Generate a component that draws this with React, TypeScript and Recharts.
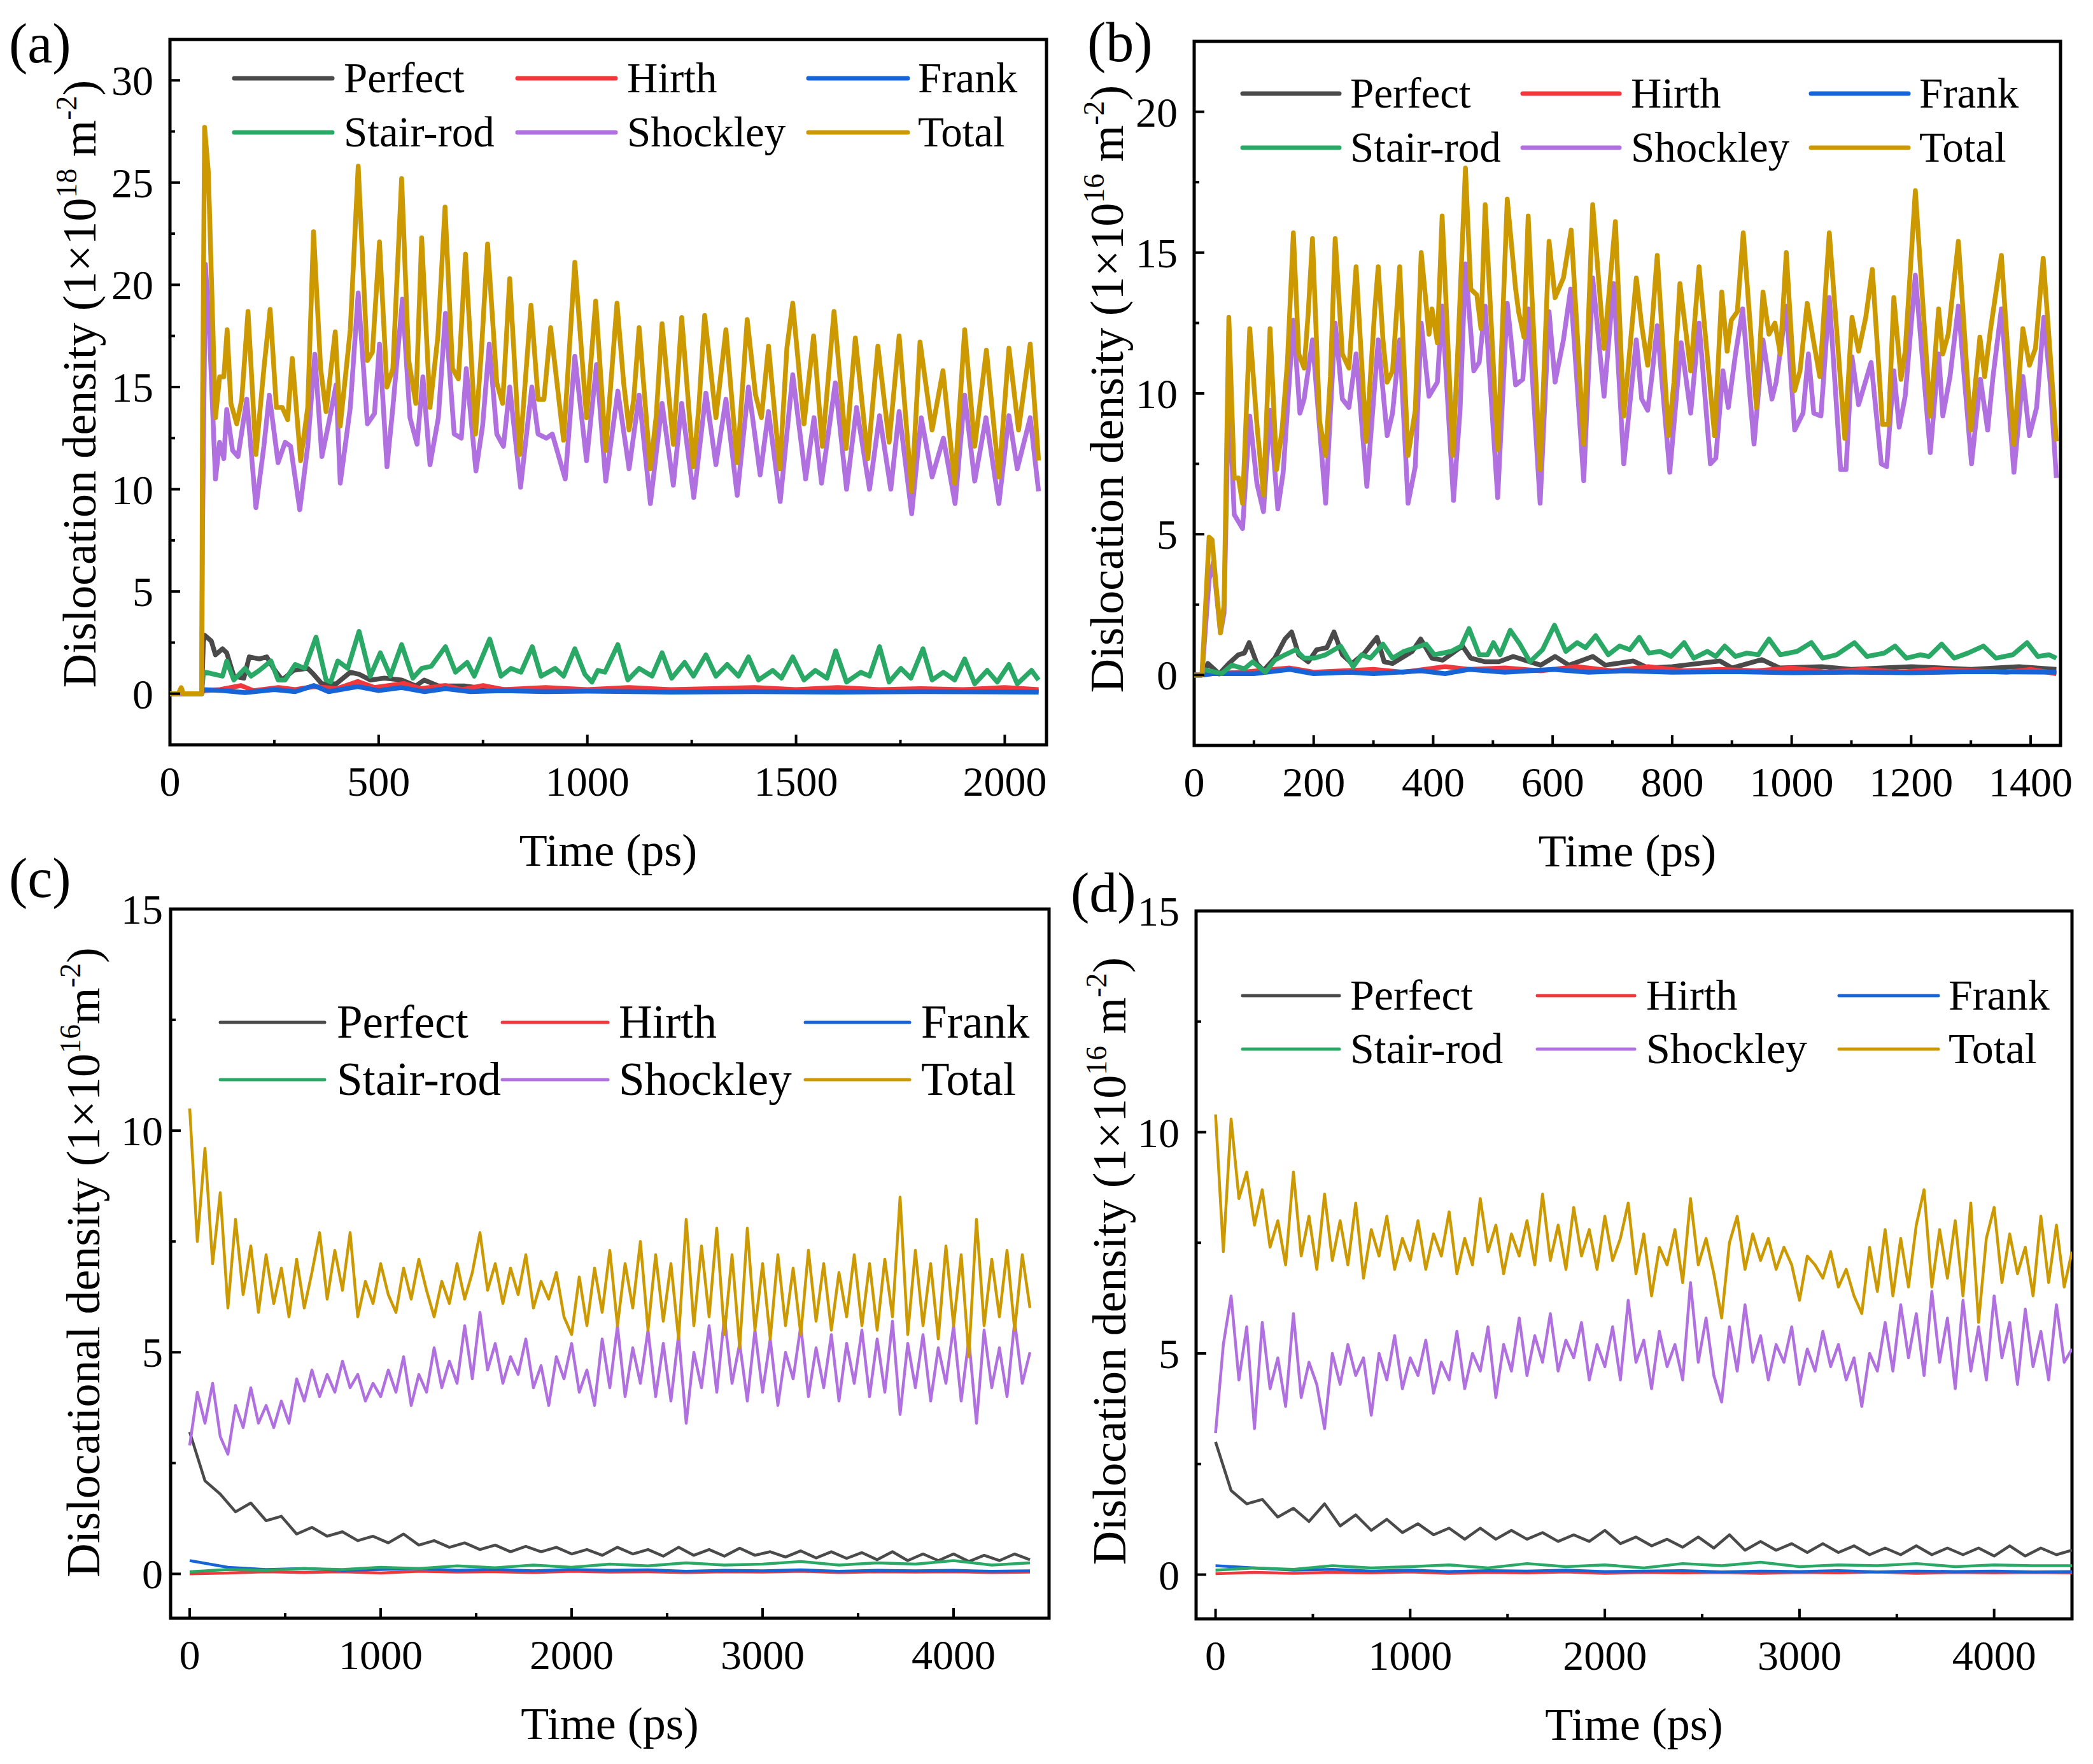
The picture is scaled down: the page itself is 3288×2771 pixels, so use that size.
import React from "react";
import { LineChart, Line, XAxis, YAxis, ReferenceArea, Legend } from "recharts";

const FONT = "'Liberation Serif', 'Times New Roman', serif";

const NAMES = ["Perfect", "Hirth", "Frank", "Stair-rod", "Shockley", "Total"];
const COLORS = ["#4a4a4a", "#f0373c", "#1764d8", "#2aa865", "#b070e0", "#cc9a00"];

// ---------- panel (a): [time ps, density 1e18 m^-2] ----------
const aPerfect = [[0,0],[76,0],[80,2.5],[83,2.86],[99,2.58],[109,1.9],[126,2.2],[136,2.0],[153,0.86],[177,0.76],[190,1.8],[214,1.7],[232,1.8],[248,1.24],[269,0.67],[296,1.14],[330,1.24],[344,0.95],[364,0.48],[398,0.48],[432,1.05],[453,0.95],[480,0.67],[514,0.76],[555,0.67],[589,0.38],[609,0.67],[643,0.38],[705,0.38],[739,0.29],[807,0.19],[900,0.22],[1000,0.15],[1200,0.18],[1400,0.14],[1600,0.16],[1800,0.12],[2081,0.12]];
const aHirth = [[0,0],[76,0],[80,0.15],[120,0.2],[170,0.4],[200,0.15],[260,0.3],[300,0.2],[345,0.35],[400,0.25],[450,0.6],[490,0.3],[560,0.5],[600,0.25],[660,0.4],[700,0.2],[750,0.4],[800,0.2],[900,0.3],[1000,0.2],[1100,0.3],[1200,0.2],[1300,0.25],[1400,0.3],[1500,0.2],[1600,0.3],[1700,0.2],[1800,0.25],[1900,0.2],[2000,0.3],[2081,0.2]];
const aFrank = [[0,0],[76,0],[80,0.2],[130,0.15],[180,0.05],[250,0.2],[300,0.1],[345,0.4],[380,0.1],[450,0.35],[500,0.15],[555,0.3],[610,0.1],[660,0.25],[720,0.1],[800,0.15],[900,0.1],[1000,0.12],[1200,0.08],[1400,0.1],[1600,0.08],[1800,0.1],[2081,0.08]];
const aStairRod = [[0,0],[76,0],[80,1.0],[85,1.05],[126,0.86],[136,1.6],[153,0.67],[180,1.24],[194,0.86],[214,1.14],[242,1.6],[259,0.67],[276,0.67],[300,1.43],[323,1.24],[350,2.77],[374,0.67],[385,0.57],[402,1.6],[426,1.24],[453,3.05],[480,0.86],[504,2.0],[528,0.86],[555,2.4],[582,0.76],[603,1.24],[626,1.34],[660,2.3],[684,1.05],[712,1.53],[729,0.86],[766,2.67],[793,0.86],[817,1.24],[841,1.05],[868,2.3],[889,0.86],[923,1.24],[943,0.86],[970,2.2],[994,0.95],[1011,0.57],[1025,1.14],[1042,1.05],[1073,2.4],[1097,0.67],[1124,1.24],[1155,0.86],[1179,2.0],[1202,0.76],[1233,1.53],[1254,0.86],[1284,1.9],[1308,0.86],[1335,1.43],[1362,0.86],[1386,1.8],[1410,0.67],[1444,1.14],[1465,0.76],[1492,1.8],[1519,0.67],[1546,1.14],[1574,0.76],[1595,2.1],[1621,0.57],[1655,1.05],[1676,0.86],[1700,2.3],[1723,0.57],[1751,1.24],[1775,0.76],[1804,2.2],[1826,0.67],[1853,1.05],[1880,0.67],[1904,1.7],[1928,0.48],[1958,1.14],[1982,0.57],[2010,1.43],[2030,0.48],[2064,1.14],[2081,0.67]];
const aShockley = [[0,0],[76,0],[78,8],[85,21.0],[95,17.5],[109,10.5],[119,12.3],[129,11.5],[136,13.9],[150,11.9],[163,11.6],[184,14.4],[206,9.1],[225,12.1],[238,14.6],[259,11.3],[276,12.3],[289,12.1],[311,9.0],[330,12.1],[347,16.6],[364,11.6],[381,13.3],[398,15.1],[408,10.3],[432,14.0],[451,19.6],[473,13.2],[490,13.7],[502,17.1],[520,11.1],[534,14.0],[557,19.3],[575,13.5],[592,12.2],[606,15.5],[623,11.2],[643,13.5],[660,18.6],[681,12.7],[698,12.5],[710,15.9],[733,10.9],[749,13.1],[765,17.1],[783,12.7],[799,12.1],[814,15.0],[840,10.1],[867,15.0],[882,12.7],[902,12.5],[916,12.7],[947,10.5],[970,16.5],[998,11.4],[1022,16.1],[1044,10.4],[1073,14.8],[1100,11.0],[1124,14.6],[1151,9.3],[1179,14.2],[1206,10.2],[1226,14.2],[1255,9.6],[1284,14.7],[1308,11.2],[1332,14.4],[1359,9.7],[1386,15.0],[1414,10.7],[1434,13.8],[1462,9.4],[1492,15.6],[1523,10.5],[1543,13.5],[1561,10.3],[1594,15.2],[1621,10.0],[1645,14.0],[1676,10.0],[1700,13.6],[1727,10.0],[1747,13.8],[1777,8.8],[1800,13.5],[1826,10.6],[1853,12.5],[1881,9.3],[1904,14.6],[1928,10.4],[1955,13.5],[1986,9.3],[2010,13.6],[2030,11.0],[2061,13.5],[2081,9.9]];
const aTotal = [[0,0],[20,0],[27,0.3],[32,0],[76,0],[78,14],[83,27.7],[92,25.5],[109,13.5],[119,15.5],[129,15.5],[137,17.8],[146,14.2],[160,13.2],[172,14.4],[187,18.7],[206,11.7],[225,15.9],[240,18.8],[255,14.0],[269,14.0],[282,13.4],[293,16.4],[313,11.4],[330,14.0],[344,22.6],[361,15.9],[374,13.8],[396,17.7],[408,13.1],[432,17.8],[451,25.8],[473,16.3],[485,16.7],[502,22.1],[520,15.0],[534,15.9],[555,25.2],[572,16.3],[589,14.2],[603,22.3],[623,14.0],[642,17.5],[659,23.8],[677,15.9],[691,15.4],[708,21.5],[732,12.7],[746,16.7],[761,22.0],[783,15.2],[797,14.2],[814,20.3],[838,11.7],[865,19.0],[882,14.4],[896,14.4],[912,17.9],[943,12.4],[970,21.1],[998,13.5],[1020,19.2],[1044,11.9],[1071,19.1],[1087,15.2],[1100,12.9],[1111,14.4],[1124,17.9],[1151,11.0],[1165,13.6],[1179,18.1],[1206,12.2],[1226,18.4],[1254,11.1],[1267,14.0],[1281,18.5],[1308,13.5],[1332,17.8],[1359,11.3],[1383,18.3],[1403,14.6],[1417,13.5],[1434,17.0],[1461,11.0],[1478,16.9],[1492,19.1],[1519,13.2],[1542,17.5],[1563,12.1],[1591,18.7],[1620,12.0],[1642,17.4],[1672,11.5],[1696,17.0],[1723,12.3],[1747,17.5],[1777,9.9],[1797,17.2],[1826,12.9],[1852,15.8],[1880,10.3],[1904,17.8],[1928,12.1],[1956,16.8],[1986,10.6],[2010,16.9],[2033,12.9],[2061,17.1],[2081,11.4]];

// ---------- panel (b): [time ps, density 1e16 m^-2] ----------
const bPerfect = [[0,0],[13,0],[23,0.41],[42,0.04],[58,0.41],[74,0.72],[84,0.78],[92,1.15],[105,0.41],[116,0.16],[135,0.6],[152,1.28],[163,1.53],[175,0.72],[191,0.47],[205,0.9],[222,0.97],[234,1.53],[248,0.72],[264,0.41],[285,0.78],[306,1.34],[318,0.47],[332,0.41],[365,0.84],[379,1.28],[398,0.6],[416,0.53],[449,1.03],[463,0.6],[487,0.47],[510,0.47],[534,0.66],[562,0.47],[580,0.35],[604,0.66],[627,0.35],[667,0.66],[688,0.35],[735,0.5],[760,0.25],[800,0.3],[880,0.5],[900,0.25],[950,0.55],[980,0.25],[1050,0.3],[1100,0.2],[1200,0.3],[1300,0.2],[1380,0.3],[1443,0.2]];
const bHirth = [[0,0],[13,0],[30,0.05],[80,0.1],[160,0.25],[200,0.1],[250,0.15],[300,0.2],[350,0.1],[420,0.3],[460,0.2],[520,0.25],[580,0.15],[640,0.3],[700,0.15],[760,0.3],[820,0.15],[880,0.2],[940,0.15],[1000,0.25],[1060,0.1],[1120,0.2],[1180,0.1],[1240,0.2],[1300,0.15],[1360,0.1],[1400,0.2],[1443,0.05]];
const bFrank = [[0,0],[13,0],[30,0.05],[100,0.05],[160,0.2],[200,0.05],[260,0.1],[300,0.05],[380,0.15],[420,0.05],[460,0.2],[520,0.1],[600,0.2],[660,0.1],[720,0.15],[800,0.1],[900,0.12],[1000,0.08],[1100,0.1],[1200,0.08],[1300,0.12],[1443,0.1]];
const bStairRod = [[0,0],[13,0],[16,0.2],[46,0.05],[63,0.35],[84,0.22],[98,0.47],[119,0.1],[135,0.53],[152,0.72],[170,0.9],[184,0.6],[201,0.6],[220,0.72],[245,1.03],[266,0.29],[280,0.72],[295,0.6],[316,1.1],[332,0.6],[351,0.84],[370,0.97],[388,1.1],[402,0.72],[430,0.84],[447,1.03],[460,1.65],[477,0.72],[491,0.72],[501,1.15],[512,0.72],[529,1.59],[545,1.1],[562,0.47],[583,0.9],[603,1.77],[622,0.84],[641,1.15],[655,0.97],[672,1.4],[693,0.72],[712,1.03],[729,0.9],[745,1.34],[761,0.78],[780,0.84],[798,0.66],[820,1.15],[836,0.6],[859,0.84],[873,0.66],[888,1.03],[906,0.66],[925,0.78],[944,0.72],[962,1.28],[981,0.72],[1009,0.84],[1033,1.15],[1052,0.6],[1075,0.72],[1105,1.15],[1126,0.66],[1155,0.78],[1173,1.03],[1192,0.6],[1215,0.72],[1230,0.66],[1251,1.1],[1272,0.6],[1295,0.78],[1321,1.03],[1342,0.6],[1370,0.72],[1394,1.15],[1412,0.66],[1431,0.72],[1443,0.6]];
const bShockley = [[0,0],[13,0],[25,3.4],[32,4.0],[44,1.5],[50,2.2],[58,10.3],[67,5.7],[81,5.2],[93,9.2],[105,6.8],[116,5.8],[127,9.4],[140,5.9],[149,7.2],[166,12.6],[177,9.3],[184,9.8],[198,11.9],[220,6.1],[236,12.5],[248,9.8],[259,9.5],[271,11.4],[289,6.7],[308,11.9],[323,8.5],[332,9.3],[344,11.9],[358,6.1],[370,7.4],[380,12.5],[393,9.9],[407,10.4],[415,13.1],[434,6.2],[445,9.4],[454,14.6],[468,10.8],[477,11.1],[487,13.1],[508,6.3],[524,13.2],[538,10.3],[550,10.5],[559,13.0],[579,6.1],[594,12.9],[604,10.4],[618,11.9],[630,13.7],[652,6.9],[667,14.1],[686,9.9],[702,13.9],[719,7.5],[740,11.9],[749,9.8],[759,9.4],[766,10.6],[775,12.4],[796,7.2],[815,11.8],[831,9.3],[845,12.5],[864,7.5],[873,7.7],[885,10.8],[894,9.5],[906,11.4],[918,13.0],[937,8.2],[952,11.9],[967,9.8],[974,10.4],[991,13.1],[1005,8.7],[1019,9.3],[1028,11.4],[1037,9.3],[1049,9.2],[1063,13.4],[1082,7.3],[1091,7.3],[1101,11.3],[1112,9.6],[1133,11.1],[1150,7.5],[1159,7.4],[1171,10.8],[1180,8.8],[1190,9.9],[1207,14.2],[1232,7.9],[1246,11.4],[1253,9.2],[1265,10.6],[1279,13.1],[1301,7.5],[1316,10.5],[1328,8.7],[1337,10.6],[1351,13.0],[1372,7.2],[1387,10.6],[1398,8.5],[1410,9.5],[1422,12.7],[1433,10.3],[1443,7.0]];
const bTotal = [[0,0],[13,0],[25,4.9],[30,4.8],[37,3.1],[44,1.5],[50,2.5],[58,12.7],[67,7.0],[74,7.0],[81,6.1],[93,12.3],[105,8.9],[116,6.4],[127,12.3],[138,7.3],[147,8.7],[156,11.1],[166,15.7],[175,11.4],[184,10.9],[191,12.9],[198,15.5],[210,9.0],[220,7.8],[228,10.6],[236,15.5],[248,11.4],[259,10.9],[271,14.5],[288,8.3],[302,12.9],[308,14.5],[316,11.9],[323,10.4],[332,10.8],[344,14.5],[358,7.8],[370,9.4],[380,15.0],[393,12.1],[398,13.0],[407,11.8],[415,16.3],[433,7.8],[442,11.9],[454,18.0],[463,13.7],[473,13.5],[480,12.3],[487,16.7],[508,8.0],[524,16.9],[538,13.7],[543,12.9],[552,12.0],[559,16.3],[579,7.3],[594,15.4],[604,13.4],[618,14.1],[631,15.8],[652,8.2],[667,16.7],[686,11.6],[705,16.1],[719,9.2],[740,14.1],[749,12.4],[759,11.0],[766,12.4],[775,14.9],[794,8.5],[803,10.4],[813,13.9],[831,10.8],[845,14.5],[871,8.5],[883,13.6],[892,11.5],[899,12.6],[909,12.9],[919,15.7],[941,9.5],[952,13.6],[962,12.1],[972,12.5],[981,11.4],[991,15.0],[1005,10.1],[1014,10.8],[1026,13.2],[1037,11.8],[1047,10.6],[1063,15.7],[1089,8.4],[1101,12.7],[1112,11.5],[1124,12.7],[1135,14.4],[1152,8.9],[1162,8.9],[1171,13.4],[1183,10.5],[1190,11.5],[1207,17.2],[1232,9.2],[1246,13.0],[1253,11.4],[1262,12.1],[1279,15.4],[1300,8.7],[1315,12.0],[1323,10.6],[1333,12.3],[1351,14.9],[1372,8.2],[1387,12.3],[1398,11.0],[1408,11.6],[1421,14.8],[1431,11.9],[1443,8.3]];

// ---------- panels (c), (d): values sampled on a regular time grid ----------
const FINE_STEP = 40; // ps, Total / Shockley
const MID_STEP = 80; // ps, Perfect
const COARSE_STEP = 200; // ps, Stair-rod / Hirth / Frank

const cTotal = [10.5,7.5,9.6,7.0,8.6,6.0,8.0,6.3,7.4,5.9,7.2,6.1,6.9,5.8,7.1,6.0,6.8,7.7,6.2,7.3,6.4,7.7,5.8,6.6,6.1,7.0,6.3,5.9,6.9,6.2,7.1,6.4,5.8,6.6,6.1,7.0,6.2,6.8,7.7,6.4,7.0,6.1,6.9,6.3,7.2,6.0,6.6,6.2,6.8,5.8,5.4,6.7,5.6,6.9,5.9,7.3,5.6,7.0,6.0,7.5,5.5,7.2,5.7,7.0,5.3,8.0,5.6,7.4,5.8,7.8,5.4,7.2,5.1,7.8,5.5,7.0,5.3,7.2,5.6,6.9,5.4,7.3,5.7,7.0,5.5,6.8,5.8,7.2,5.6,7.0,5.5,7.1,5.8,8.5,5.4,7.3,5.6,7.0,5.3,7.4,5.6,7.2,4.9,8.0,5.6,7.1,5.8,7.3,5.5,7.2,6.0];
const cShockley = [2.9,4.1,3.4,4.3,3.1,2.7,3.8,3.3,4.2,3.4,3.8,3.3,3.9,3.4,4.4,3.9,4.6,4.0,4.5,4.1,4.8,4.2,4.5,3.9,4.3,4.0,4.6,4.1,4.9,3.8,4.5,4.1,5.1,4.2,4.8,4.3,5.6,4.4,5.9,4.6,5.2,4.3,4.9,4.5,5.3,4.2,4.7,3.8,4.9,4.4,5.2,4.1,4.6,3.8,5.3,4.2,5.6,4.0,5.1,4.3,5.5,4.0,5.2,3.9,5.4,3.4,5.0,4.2,5.6,4.1,5.8,4.3,5.2,3.9,5.5,4.1,5.3,3.8,5.0,4.4,5.6,4.0,5.1,4.2,5.4,3.9,5.2,4.3,5.5,4.0,5.3,4.1,5.7,3.6,5.2,4.2,5.4,3.9,5.1,4.3,5.6,3.9,5.3,3.4,5.5,4.2,5.1,4.0,5.7,4.3,5.0];
const cPerfect = [3.2,2.1,1.8,1.4,1.6,1.2,1.3,0.9,1.05,0.85,0.95,0.75,0.85,0.7,0.9,0.65,0.75,0.6,0.7,0.55,0.65,0.5,0.62,0.5,0.6,0.45,0.55,0.42,0.6,0.45,0.55,0.4,0.6,0.42,0.55,0.4,0.58,0.42,0.5,0.38,0.52,0.36,0.5,0.35,0.48,0.32,0.5,0.3,0.45,0.3,0.45,0.28,0.42,0.3,0.45,0.32];
const cStairRod = [0.05,0.1,0.08,0.12,0.1,0.15,0.12,0.18,0.14,0.2,0.15,0.22,0.18,0.25,0.2,0.22,0.28,0.2,0.25,0.22,0.3,0.2,0.25];
const cHirth = [0.0,0.02,0.05,0.03,0.05,0.02,0.06,0.04,0.05,0.03,0.06,0.04,0.05,0.03,0.05,0.04,0.06,0.03,0.05,0.04,0.05,0.03,0.04];
const cFrank = [0.3,0.15,0.1,0.12,0.08,0.1,0.12,0.08,0.1,0.07,0.1,0.08,0.09,0.06,0.08,0.07,0.09,0.06,0.08,0.07,0.08,0.06,0.07];

const dTotal = [10.4,7.3,10.3,8.5,9.1,7.9,8.7,7.4,8.0,7.0,9.1,7.2,8.1,6.9,8.6,7.1,8.0,7.0,8.4,6.7,7.8,7.2,8.1,6.9,7.6,7.1,8.0,6.9,7.7,7.2,8.2,6.8,7.6,7.0,8.5,7.3,7.9,6.8,7.7,7.2,8.0,7.0,8.6,7.1,7.9,6.9,8.3,7.2,7.8,6.9,8.1,7.1,7.6,8.4,6.8,7.7,6.3,7.4,7.0,7.8,6.6,8.5,7.0,7.6,6.8,5.8,7.5,8.1,6.9,7.7,7.1,7.6,6.9,7.4,7.0,6.2,7.2,7.0,6.7,7.3,6.5,6.9,6.3,5.9,7.4,6.4,7.8,6.3,7.6,6.5,7.9,8.7,6.5,7.8,6.7,8.0,6.3,8.4,5.7,7.6,8.3,6.6,7.7,6.8,7.4,6.3,8.1,6.6,7.9,6.5,7.3];
const dShockley = [3.2,5.2,6.3,4.4,5.6,3.3,5.7,4.2,4.9,3.8,5.9,4.0,4.8,4.3,3.3,5.0,4.3,5.2,4.5,4.9,3.6,5.0,4.4,5.4,4.2,4.9,4.5,5.3,4.1,4.8,4.4,5.5,4.2,5.0,4.6,5.6,4.0,5.2,4.6,5.8,4.5,5.4,4.8,5.9,4.6,5.3,4.9,5.7,4.4,5.2,4.7,5.6,4.4,6.2,4.8,5.3,4.2,5.5,4.7,5.2,4.4,6.6,4.8,5.8,4.5,3.9,5.6,4.6,6.1,4.8,5.4,4.4,5.2,4.8,5.6,4.3,5.1,4.6,5.5,4.7,5.2,4.4,4.9,3.8,5.0,4.6,5.7,4.6,6.1,4.9,5.9,4.5,6.4,4.8,5.8,4.2,6.2,4.6,5.6,4.4,6.3,4.9,5.7,4.3,6.0,4.7,5.5,4.4,6.1,4.8,5.1];
const dPerfect = [3.0,1.9,1.6,1.7,1.3,1.5,1.2,1.6,1.1,1.35,1.0,1.25,0.95,1.15,0.9,1.05,0.8,1.05,0.8,1.0,0.8,0.95,0.75,0.9,0.75,1.0,0.7,0.85,0.65,0.8,0.62,0.85,0.6,0.9,0.55,0.75,0.55,0.7,0.5,0.7,0.5,0.65,0.45,0.6,0.45,0.65,0.45,0.6,0.45,0.6,0.42,0.65,0.42,0.6,0.45,0.55];
const dStairRod = [0.1,0.15,0.12,0.2,0.15,0.18,0.22,0.15,0.25,0.18,0.22,0.15,0.25,0.2,0.28,0.18,0.22,0.2,0.25,0.18,0.22,0.2,0.2];
const dHirth = [0.02,0.05,0.03,0.05,0.04,0.06,0.03,0.05,0.04,0.06,0.03,0.05,0.04,0.05,0.03,0.05,0.04,0.06,0.03,0.05,0.04,0.05,0.04];
const dFrank = [0.2,0.15,0.1,0.12,0.08,0.1,0.07,0.09,0.08,0.1,0.07,0.08,0.09,0.06,0.08,0.07,0.09,0.06,0.08,0.07,0.08,0.06,0.07];

// ---------- tick values ----------
const aXTicks = [0, 250, 500, 750, 1000, 1250, 1500, 1750, 2000];
const aYTicks = [0, 2.5, 5, 7.5, 10, 12.5, 15, 17.5, 20, 22.5, 25, 27.5, 30];
const bXTicks = [0, 100, 200, 300, 400, 500, 600, 700, 800, 900, 1000, 1100, 1200, 1300, 1400];
const bYTicks = [0, 2.5, 5, 7.5, 10, 12.5, 15, 17.5, 20];
const cdXTicks = [0, 500, 1000, 1500, 2000, 2500, 3000, 3500, 4000];
const cdYTicks = [0, 2.5, 5, 7.5, 10, 12.5, 15];

type Pt = { t: number; v: number };
const fromPairs = (pairs: number[][]): Pt[] => pairs.map(([t, v]) => ({ t, v }));
const onGrid = (step: number, vals: number[]): Pt[] => vals.map((v, i) => ({ t: i * step, v }));

const isMajor = (v: number, major: number) => Math.abs(v / major - Math.round(v / major)) < 1e-6;

type Panel = {
  id: string;
  left: number;
  top: number;
  width: number;
  height: number;
  margin: { top: number; right: number; bottom: number; left: number };
  yWidth: number;
  xHeight: number;
  xDomain: [number, number];
  yDomain: [number, number];
  xTicks: number[];
  xMajor: number;
  yTicks: number[];
  yMajor: number;
  yGap: number;
  series: Pt[][];
  lineW: number;
  letter: string;
  letterX: number;
  letterY: number;
  yTitle: string;
  exp: string;
  unitSpace: boolean;
  titleX: number;
  titleY: number;
  rows: [number, number];
  cols: [number, number, number][];
  legendW: number;
  legendFont: number;
};

const panels: Panel[] = [
  {
    id: "a", left: 0, top: 0, width: 1660, height: 1400,
    margin: { top: 62, right: 16, bottom: 0, left: 0 }, yWidth: 267, xHeight: 230,
    xDomain: [0, 2100], yDomain: [-2.5, 32], xTicks: aXTicks, xMajor: 500, yTicks: aYTicks, yMajor: 5, yGap: 24,
    series: [aPerfect, aHirth, aFrank, aStairRod, aShockley, aTotal].map(fromPairs), lineW: 7.5,
    letter: "(a)", letterX: 14, letterY: 98,
    yTitle: "Dislocation density", exp: "18", unitSpace: true, titleX: 150, titleY: 603,
    rows: [123, 208], cols: [[368, 522, 540], [813, 967, 985], [1270, 1426, 1442]], legendW: 7, legendFont: 67,
  },
  {
    id: "b", left: 1660, top: 0, width: 1628, height: 1400,
    margin: { top: 65, right: 51, bottom: 0, left: 0 }, yWidth: 216, xHeight: 229,
    xDomain: [0, 1450], yDomain: [-2.5, 22.5], xTicks: bXTicks, xMajor: 200, yTicks: bYTicks, yMajor: 5, yGap: 24,
    series: [bPerfect, bHirth, bFrank, bStairRod, bShockley, bTotal].map(fromPairs), lineW: 7.5,
    letter: "(b)", letterX: 48, letterY: 96,
    yTitle: "Dislocation density", exp: "16", unitSpace: true, titleX: 104, titleY: 611,
    rows: [147, 232], cols: [[292, 444, 461], [732, 884, 902], [1185, 1338, 1355]], legendW: 7, legendFont: 67,
  },
  {
    id: "c", left: 0, top: 1320, width: 1660, height: 1451,
    margin: { top: 108, right: 12, bottom: 0, left: 0 }, yWidth: 268, xHeight: 229,
    xDomain: [-100, 4500], yDomain: [-1, 15], xTicks: cdXTicks, xMajor: 1000, yTicks: cdYTicks, yMajor: 5, yGap: 10,
    series: [
      onGrid(MID_STEP, cPerfect), onGrid(COARSE_STEP, cHirth), onGrid(COARSE_STEP, cFrank),
      onGrid(COARSE_STEP, cStairRod), onGrid(FINE_STEP, cShockley), onGrid(FINE_STEP, cTotal),
    ],
    lineW: 4.5,
    letter: "(c)", letterX: 14, letterY: 89,
    yTitle: "Dislocational density", exp: "16", unitSpace: false, titleX: 156, titleY: 663,
    rows: [286, 376], cols: [[346, 510, 529], [789, 955, 972], [1265, 1429, 1447]], legendW: 5, legendFont: 73,
  },
  {
    id: "d", left: 1660, top: 1320, width: 1628, height: 1451,
    margin: { top: 111, right: 33, bottom: 0, left: 0 }, yWidth: 219, xHeight: 228,
    xDomain: [-100, 4400], yDomain: [-1, 15], xTicks: cdXTicks, xMajor: 1000, yTicks: cdYTicks, yMajor: 5, yGap: 24,
    series: [
      onGrid(MID_STEP, dPerfect), onGrid(COARSE_STEP, dHirth), onGrid(COARSE_STEP, dFrank),
      onGrid(COARSE_STEP, dStairRod), onGrid(FINE_STEP, dShockley), onGrid(FINE_STEP, dTotal),
    ],
    lineW: 4.5,
    letter: "(d)", letterX: 22, letterY: 112,
    yTitle: "Dislocation density", exp: "16", unitSpace: true, titleX: 108, titleY: 661,
    rows: [244, 328], cols: [[292, 444, 461], [755, 908, 926], [1229, 1385, 1401]], legendW: 5, legendFont: 68,
  },
];

function makeXTick(major: number) {
  return (props: any) => {
    const { x, y, payload } = props;
    const v = payload.value;
    const big = isMajor(v, major);
    return (
      <g>
        <line x1={x} x2={x} y1={y} y2={y - (big ? 18 : 10)} stroke="#000" strokeWidth={4} />
        {big && (
          <text x={x} y={y + 78} textAnchor="middle" fontSize={66} fontFamily={FONT} fill="#000">
            {v}
          </text>
        )}
      </g>
    );
  };
}

function makeYTick(major: number, gap: number) {
  return (props: any) => {
    const { x, y, payload } = props;
    const v = payload.value;
    const big = isMajor(v, major);
    return (
      <g>
        <line x1={x} x2={x + (big ? 18 : 10)} y1={y} y2={y} stroke="#000" strokeWidth={4} />
        {big && (
          <text x={x - gap} y={y + 23} textAnchor="end" fontSize={66} fontFamily={FONT} fill="#000">
            {v}
          </text>
        )}
      </g>
    );
  };
}

function LegendBox({ p }: { p: Panel }) {
  return (
    <svg width={p.width} height={p.rows[1] + 60} style={{ position: "absolute", left: 0, top: 0, overflow: "visible" }}>
      {NAMES.map((name, i) => {
        const y = p.rows[Math.floor(i / 3)];
        const [x1, x2, tx] = p.cols[i % 3];
        return (
          <g key={name}>
            <line x1={x1} x2={x2} y1={y} y2={y} stroke={COLORS[i]} strokeWidth={p.legendW} strokeLinecap="round" />
            <text x={tx} y={y + Math.round(p.legendFont * 0.33)} fontSize={p.legendFont} fontFamily={FONT} fill="#000">
              {name}
            </text>
          </g>
        );
      })}
    </svg>
  );
}

function PanelChart({ p }: { p: Panel }) {
  const plotLeft = p.margin.left + p.yWidth;
  const plotRight = p.width - p.margin.right;
  const plotBottom = p.height - p.margin.bottom - p.xHeight;
  const xTitle = () => (
    <text x={(plotLeft + plotRight) / 2} y={plotBottom + 190} textAnchor="middle" fontSize={72} fontFamily={FONT} fill="#000">
      Time (ps)
    </text>
  );
  const yTitle = () => (
    <g>
      <text x={p.letterX} y={p.letterY} fontSize={88} fontFamily={FONT} fill="#000">
        {p.letter}
      </text>
      <text transform={`translate(${p.titleX},${p.titleY}) rotate(-90)`} textAnchor="middle" fontSize={74} fontFamily={FONT} fill="#000">
        {p.yTitle} (1×10
        <tspan dy={-30} fontSize={46}>{p.exp}</tspan>
        <tspan dy={30}>{p.unitSpace ? " m" : "m"}</tspan>
        <tspan dy={-30} fontSize={46}>-2</tspan>
        <tspan dy={30}>)</tspan>
      </text>
    </g>
  );
  return (
    <div style={{ position: "absolute", left: p.left, top: p.top }}>
      <LineChart width={p.width} height={p.height} margin={p.margin}>
        <XAxis
          type="number"
          dataKey="t"
          domain={p.xDomain}
          allowDataOverflow
          ticks={p.xTicks}
          interval={0}
          tickSize={0}
          tickLine={false}
          axisLine={false}
          height={p.xHeight}
          tick={makeXTick(p.xMajor)}
          label={xTitle}
        />
        <YAxis
          type="number"
          domain={p.yDomain}
          allowDataOverflow
          ticks={p.yTicks}
          interval={0}
          tickSize={0}
          tickLine={false}
          axisLine={false}
          width={p.yWidth}
          tick={makeYTick(p.yMajor, p.yGap)}
          label={yTitle}
        />
        {p.series.map((d, i) => (
          <Line
            key={NAMES[i]}
            data={d}
            dataKey="v"
            name={NAMES[i]}
            type="linear"
            stroke={COLORS[i]}
            strokeWidth={p.lineW}
            strokeLinejoin="round"
            dot={false}
            activeDot={false}
            isAnimationActive={false}
          />
        ))}
        <ReferenceArea
          x1={p.xDomain[0]}
          x2={p.xDomain[1]}
          y1={p.yDomain[0]}
          y2={p.yDomain[1]}
          fill="none"
          stroke="#000"
          strokeWidth={5}
          ifOverflow="visible"
        />
        <Legend
          layout="horizontal"
          verticalAlign="middle"
          align="center"
          wrapperStyle={{ left: 0, top: 0, width: p.width, height: 0 }}
          content={() => <LegendBox p={p} />}
        />
      </LineChart>
    </div>
  );
}

export default function App() {
  return (
    <div style={{ position: "absolute", left: 0, top: 0, width: 3288, height: 2771, background: "#fff", fontFamily: FONT }}>
      {panels.map((p) => (
        <PanelChart key={p.id} p={p} />
      ))}
    </div>
  );
}
